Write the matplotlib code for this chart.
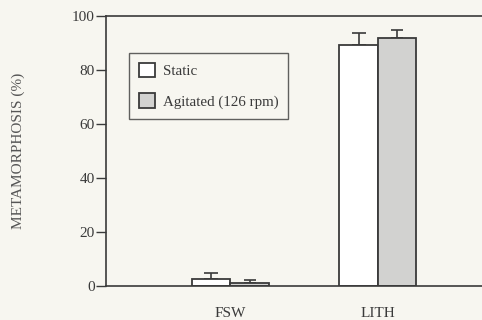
import numpy as np
import matplotlib.pyplot as plt

plt.rcParams['font.family'] = ['Liberation Serif', 'DejaVu Serif']

# data
categories = ['FSW', 'LITH']
static_vals = [2.7, 89.4]
static_err = [2.0, 4.3]
agitated_vals = [1.2, 91.9]
agitated_err = [1.0, 2.9]
series_labels = ['Static', 'Agitated (126 rpm)']
yticks = [0, 20, 40, 60, 80, 100]

bg = '#f7f6f0'
ink = '#3a3a3a'
fs = 11

fig = plt.figure(figsize=(4.82, 3.2), dpi=100, facecolor=bg)
ax = fig.add_axes([106 / 482, 1 - 286 / 320, 1 - 106 / 482 + 0.01, 270 / 320])
ax.set_facecolor(bg)

x = np.arange(len(categories)) + 1
w = 0.26

ax.bar(x - w / 2, static_vals, w, color='white', edgecolor=ink, linewidth=1.3,
       label=series_labels[0], zorder=2)
ax.bar(x + w / 2, agitated_vals, w, color='#d2d2d0', edgecolor=ink, linewidth=1.3,
       label=series_labels[1], zorder=2)
ax.errorbar(x - w / 2, static_vals, yerr=[np.zeros(2), static_err], fmt='none',
            ecolor=ink, elinewidth=1.2, capsize=5, capthick=1.2, zorder=1)
ax.errorbar(x + w / 2, agitated_vals, yerr=[np.zeros(2), agitated_err], fmt='none',
            ecolor=ink, elinewidth=1.2, capsize=4, capthick=1.2, zorder=1)

ax.set_xlim(0.156, 2.74)
ax.set_ylim(0, 100)
ax.set_yticks(yticks)
ax.set_xticks(x)
ax.set_xticklabels(categories)
ax.tick_params(axis='x', length=0, pad=15, labelsize=fs, colors=ink)
ax.tick_params(axis='y', length=7, width=1, direction='out', pad=1, labelsize=fs, colors=ink)

for s in ['left', 'top', 'bottom']:
    ax.spines[s].set_color(ink)
    ax.spines[s].set_linewidth(1.2)
ax.spines['right'].set_visible(False)

ax.set_ylabel('METAMORPHOSIS (%)', fontsize=fs, color='#555555', labelpad=34)

leg = ax.legend(loc='upper left', bbox_to_anchor=(0.06, 0.862), frameon=True, fancybox=False,
                fontsize=10.8, handlelength=1.1, handleheight=1.1, borderpad=0.65,
                labelspacing=1.0, handletextpad=0.5, labelcolor=ink, borderaxespad=0)
leg.get_frame().set_edgecolor(ink)
leg.get_frame().set_linewidth(1.0)
leg.get_frame().set_facecolor(bg)

fig.savefig('out.png', dpi=100, facecolor=bg)
